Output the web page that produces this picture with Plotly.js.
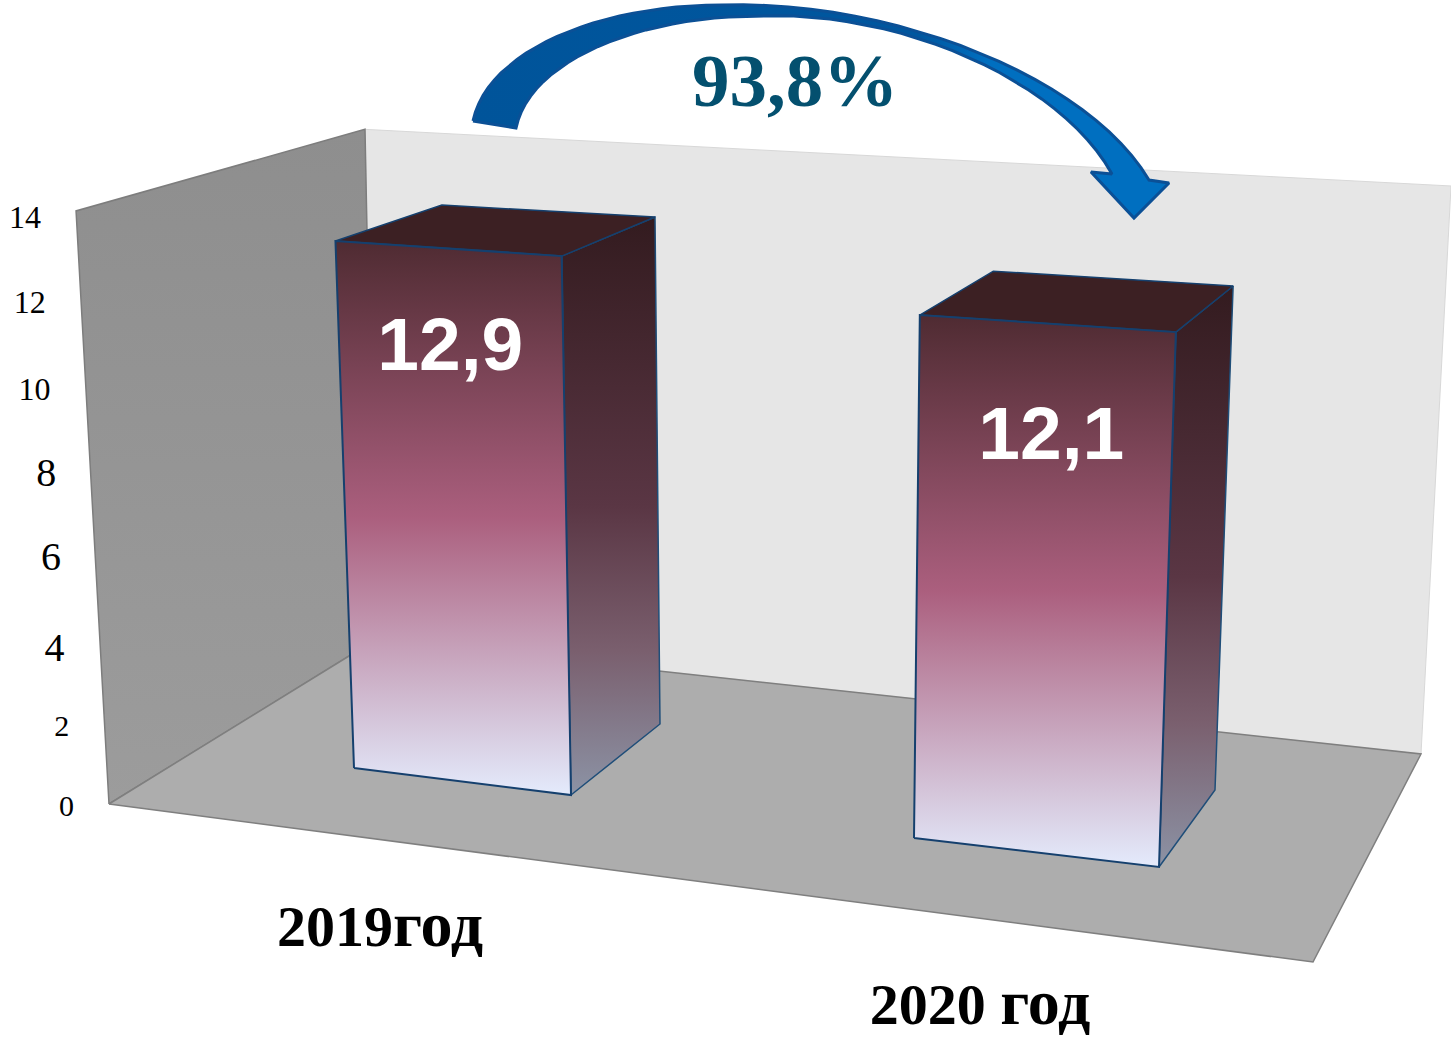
<!DOCTYPE html>
<html><head><meta charset="utf-8">
<script src="https://cdn.plot.ly/plotly-3.0.1.min.js"></script>
<style>html,body{margin:0;padding:0;background:#fff}#chart{width:1451px;height:1037px}</style>
</head><body><div id="chart"></div>
<script>
// ---- data ----
const categories = ['2019год', '2020 год'];
const values = [12.9, 12.1];
const ratioLabel = '93,8%';
const axisTicks = [0, 2, 4, 6, 8, 10, 12, 14];
const axisMax = 14;

// ---- style / geometry of the pseudo-3D scene (screen units) ----
const VP = [780, 12880];                 // vanishing point of the vertical edges
const scene = {
  frontLeft:  {x:109,  y:804, q:3.508e-3},
  backLeft:   {x:375,  y:640, q:2.98e-3, vx:615},
  backRight:  {x:1421, y:754, q:3.346e-3},
  frontRight: {x:1313, y:962}
};
const barFloors = [
  {fl:{x:354,y:768,q:3.373e-3}, fr:{x:571,y:795,q:3.457e-3}, br:{x:660,y:724,q:3.233e-3}, bl:{x:455,y:697,q:3.13e-3}, drop:2.48, dx:-1},
  {fl:{x:914,y:838,q:3.589e-3}, fr:{x:1159,y:867,q:3.68e-3}, br:{x:1215,y:790,q:3.445e-3}, bl:{x:985,y:761,q:3.34e-3}, drop:2.67, dx:6}
];
const catPos = [[380, 931], [980, 1009]];
const tickDy = [4, 9, 16, 10, 11, 12, 9, 9];
const tickDx = [35, 35, 35, 34, 34, 35, 35, 35];
const tickSize = [30, 30, 40, 40, 40, 32, 32, 32];
// arrow outline as cubic Bezier control points
const arrowOuter = [[[473,121],[488,50],[600,5],[721,5]], [[721,5],[900,0],[1090,80],[1149,180]]];
const arrowHead = [[1169,183],[1134,218],[1091,172]];
const arrowInner = [[[1112,174],[1060,80],[900,10],[758,16]], [[758,16],[640,16],[530,60],[516,128]]];

function lift(p, v) {
  const s = p.q * v, vx = p.vx === undefined ? VP[0] : p.vx;
  return [p.x + (p.x - vx) * s, p.y + (p.y - VP[1]) * s];
}
function bez(segs, n) {
  const out = [];
  segs.forEach(c => {
    for (let k = 0; k <= n; k++) {
      const t = k/n, u = 1-t;
      out.push([0,1].map(j => u*u*u*c[0][j] + 3*u*u*t*c[1][j] + 3*u*t*t*c[2][j] + t*t*t*c[3][j]));
    }
  });
  return out;
}
function poly(pts, opts) {
  const closed = pts.concat([pts[0]]);
  return Object.assign({
    type:'scatter', mode:'lines', x:closed.map(p=>p[0]), y:closed.map(p=>p[1]),
    fill:'toself', hoverinfo:'skip', showlegend:false
  }, opts);
}
const ln = (c,w) => ({color:c, width:w});
const base = p => [p.x, p.y];
const traces = [];
const fl = scene.frontLeft, bl = scene.backLeft, br = scene.backRight, fr = scene.frontRight;

// walls and floor
traces.push(poly([base(bl), base(br), lift(br,axisMax), lift(bl,axisMax)], {fillcolor:'#e6e6e6', line:ln('#d8d8d8',1)}));
traces.push(poly([base(fl), base(bl), lift(bl,axisMax), lift(fl,axisMax)], {
  fillcolor:'#969696', line:ln('#7d7d7d',1.5),
  fillgradient:{type:'vertical', colorscale:[[0,'#9c9c9c'],[1,'#8e8e8e']]}}));
traces.push(poly([base(fl), base(fr), base(br), base(bl)], {fillcolor:'#adadad', line:ln('#7f7f7f',1.5)}));

// bars
const frontScale = [[0,'#e4ebfc'],[0.5,'#ab5f7e'],[1,'#4f2b32']];
const sideScale  = [[0,'#8c93a5'],[0.25,'#7a5f6e'],[0.5,'#5a3644'],[1,'#331b1f']];
values.forEach((v,i) => {
  const b = barFloors[i];
  const tFL = lift(b.fl,v), tFR = lift(b.fr,v), tBR = lift(b.br,v), tBL = lift(b.bl,v);
  traces.push(poly([base(b.fr), base(b.br), tBR, tFR], {
    line:ln('#1f4e79',1.5), fillgradient:{type:'vertical', colorscale:sideScale}}));
  traces.push(poly([tFL, tFR, tBR, tBL], {fillcolor:'#3c2023', line:ln('#15406e',1.5)}));
  traces.push(poly([base(b.fl), base(b.fr), tFR, tFL], {
    line:ln('#15406e',2), fillgradient:{type:'vertical', colorscale:frontScale}}));
});

// value labels on the bars
values.forEach((v,i) => {
  const b = barFloors[i], a = lift(b.fl, v-b.drop), c = lift(b.fr, v-b.drop);
  traces.push({type:'scatter', mode:'text', x:[(a[0]+c[0])/2+b.dx], y:[(a[1]+c[1])/2],
    text:[String(v).replace('.',',')], textposition:'middle center', cliponaxis:false, hoverinfo:'skip', showlegend:false,
    textfont:{family:'Liberation Sans', size:75, color:'#ffffff', weight:'bold'}});
});

// axis tick labels, placed along the front-left wall edge
const tp = axisTicks.map(t => lift(fl,t));
traces.push({type:'scatter', mode:'text', x:tp.map((p,i)=>p[0]-tickDx[i]), y:tp.map((p,i)=>p[1]+tickDy[i]),
  text:axisTicks.map(String), textposition:'middle left', cliponaxis:false, hoverinfo:'skip', showlegend:false,
  textfont:{family:'Liberation Serif', size:tickSize, color:'#000000'}});

// category labels
categories.forEach((c,i) => {
  const m = c.match(/^(\d+\s?)(.*)$/);
  traces.push({type:'scatter', mode:'text', x:[catPos[i][0]], y:[catPos[i][1]],
    text:[m[1] + '<span style="font-size:64px">' + m[2] + '</span>'], textposition:'middle center', cliponaxis:false, hoverinfo:'skip', showlegend:false,
    textfont:{family:'Liberation Serif', size:58, color:'#000000', weight:'bold'}});
});

// curved arrow and ratio label
const arrow = bez(arrowOuter,24).concat(arrowHead, bez(arrowInner,24));
traces.push(poly(arrow, {line:ln('#0b5096',3),
  fillgradient:{type:'horizontal', colorscale:[[0,'#00549a'],[0.64,'#00579f'],[0.74,'#006fc0'],[1,'#006fc0']]}}));
traces.push({type:'scatter', mode:'text', x:[795], y:[87], text:[ratioLabel], textposition:'middle center', cliponaxis:false,
  hoverinfo:'skip', showlegend:false, textfont:{family:'Liberation Serif', size:75, color:'#04506f', weight:'bold'}});

Plotly.newPlot('chart', traces, {
  width:1451, height:1037, margin:{l:0,r:0,t:0,b:0}, paper_bgcolor:'#ffffff', plot_bgcolor:'#ffffff', showlegend:false,
  xaxis:{range:[0,1451], visible:false, fixedrange:true},
  yaxis:{range:[1037,0], visible:false, fixedrange:true}
}, {displayModeBar:false, staticPlot:true});
</script></body></html>
